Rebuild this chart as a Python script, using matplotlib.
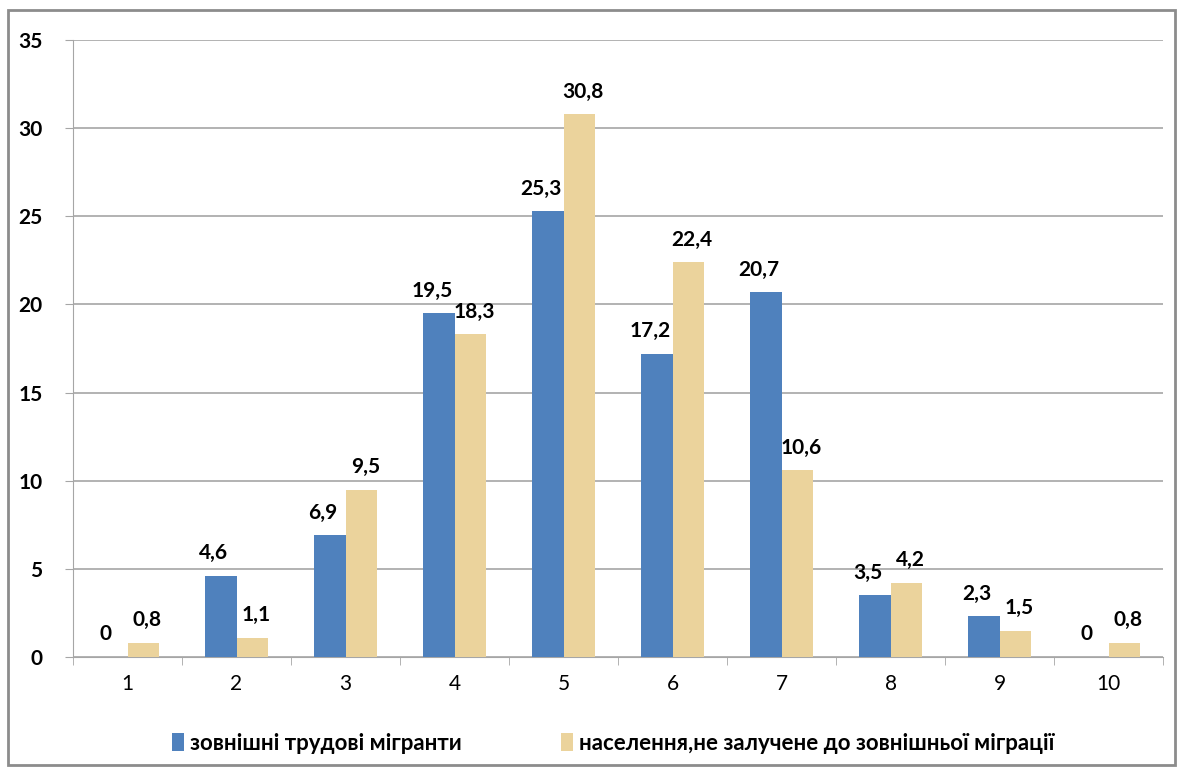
import matplotlib.pyplot as plt
import numpy as np
from matplotlib.patches import Rectangle

plt.rcParams['font.family'] = ['Lato', 'DejaVu Sans']

# data
categories = ['1', '2', '3', '4', '5', '6', '7', '8', '9', '10']
migrants = [0, 4.6, 6.9, 19.5, 25.3, 17.2, 20.7, 3.5, 2.3, 0]
not_migrants = [0.8, 1.1, 9.5, 18.3, 30.8, 22.4, 10.6, 4.2, 1.5, 0.8]
labels_m = ['0', '4,6', '6,9', '19,5', '25,3', '17,2', '20,7', '3,5', '2,3', '0']
labels_n = ['0,8', '1,1', '9,5', '18,3', '30,8', '22,4', '10,6', '4,2', '1,5', '0,8']

blue = '#4F81BD'
tan = '#EBD39C'
grid_c = '#A6A6A6'

fig = plt.figure(figsize=(11.79, 7.73), dpi=100)
# outer frame like the original
fig.patches.append(Rectangle((0.007, 0.01), 0.99, 0.977, transform=fig.transFigure,
                             fill=False, edgecolor='#8C8C8C', linewidth=2))

ax = fig.add_axes([73 / 1179, 1 - 657 / 773, 1090 / 1179, 617 / 773])

x = np.arange(len(categories))
w = 0.285
b1 = ax.bar(x - w / 2, migrants, w, color=blue, zorder=3, label='зовнішні трудові мігранти')
b2 = ax.bar(x + w / 2, not_migrants, w, color=tan, zorder=3,
            label='населення,не залучене до зовнішньої міграції')

for i in range(len(x)):
    ax.annotate(labels_m[i], (x[i] - w / 2, migrants[i]), xytext=(-5, 9),
                textcoords='offset points', ha='center', va='bottom',
                fontsize=15, fontweight='bold')
    ax.annotate(labels_n[i], (x[i] + w / 2, not_migrants[i]), xytext=(3, 9),
                textcoords='offset points', ha='center', va='bottom',
                fontsize=15, fontweight='bold')

ax.set_ylim(0, 35)
ax.set_yticks(range(0, 36, 5))
ax.set_xlim(-0.5, len(categories) - 0.5)
ax.set_xticks(x)
ax.set_xticklabels(categories)
ax.set_xticks(np.arange(-0.5, len(categories), 1), minor=True)
ax.tick_params(axis='x', which='major', length=0, pad=12, labelsize=15)
ax.tick_params(axis='x', which='minor', length=6, color=grid_c)
ax.tick_params(axis='y', length=6, color=grid_c, pad=16, labelsize=15)
for t in ax.get_yticklabels():
    t.set_fontweight('bold')
ax.yaxis.grid(True, color=grid_c, linewidth=1.2, zorder=0)
ax.set_axisbelow(True)
for s in ['top', 'right']:
    ax.spines[s].set_visible(False)
ax.spines['left'].set_color(grid_c)
ax.spines['bottom'].set_color(grid_c)

leg = fig.legend(handles=[b1, b2], loc='center', bbox_to_anchor=(0.52, 1 - 743 / 773),
                 ncol=2, frameon=False, fontsize=16, handlelength=0.55, handleheight=0.9,
                 handletextpad=0.25, columnspacing=4.5)
for t in leg.get_texts():
    t.set_fontweight('bold')

fig.savefig('out.png', dpi=100)
